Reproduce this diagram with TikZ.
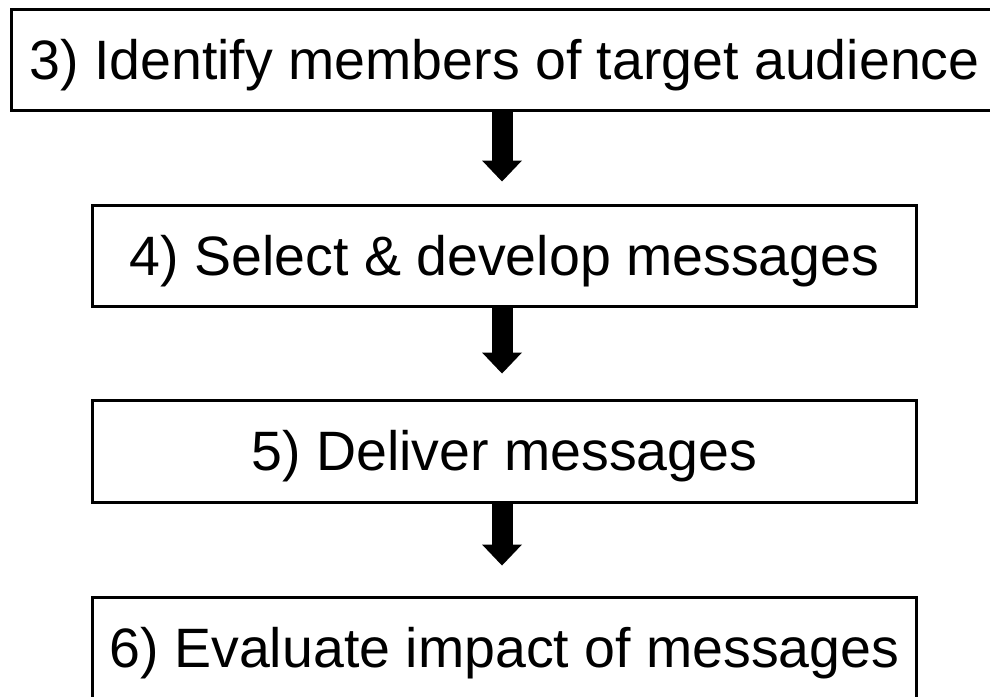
\documentclass[tikz,border=0pt]{standalone}
\usepackage{fontspec}
\setmainfont{Liberation Sans}
\usetikzlibrary{arrows.meta}
\begin{document}
\begin{tikzpicture}[x=1pt,y=1pt,
  box/.style={draw=black, line width=3pt, inner sep=0pt,
    font=\fontsize{55.5}{60}\selectfont, text height=38pt, text depth=0pt,
    minimum height=101pt},
  flow/.style={draw=black, line width=21pt,
    -{Triangle[width=40pt,length=21pt,line width=0pt]}}]
\useasboundingbox (0,0) rectangle (990,-696);
\fill[white] (0,0) rectangle (990,-696);
\clip (0,0) rectangle (990,-696);
\node[box, minimum width=986pt] (s3) at (504.5,-60) {3) Identify members of target audience};
\node[box, minimum width=824pt] (s4) at (504.5,-256) {4) Select \& develop messages};
\node[box, minimum width=824pt, minimum height=102pt] (s5) at (504.5,-451.5) {5) Deliver messages};
\node[box, minimum width=824pt] (s6) at (504.5,-648) {6) Evaluate impact of messages};
\draw[flow, shorten >=22.5pt] ([xshift=-2.5pt]s3.south) -- ([xshift=-2.5pt]s4.north);
\draw[flow, shorten >=25.5pt] ([xshift=-2.5pt]s4.south) -- ([xshift=-2.5pt]s5.north);
\draw[flow, shorten >=30.5pt] ([xshift=-2.5pt]s5.south) -- ([xshift=-2.5pt]s6.north);
\end{tikzpicture}
\end{document}
